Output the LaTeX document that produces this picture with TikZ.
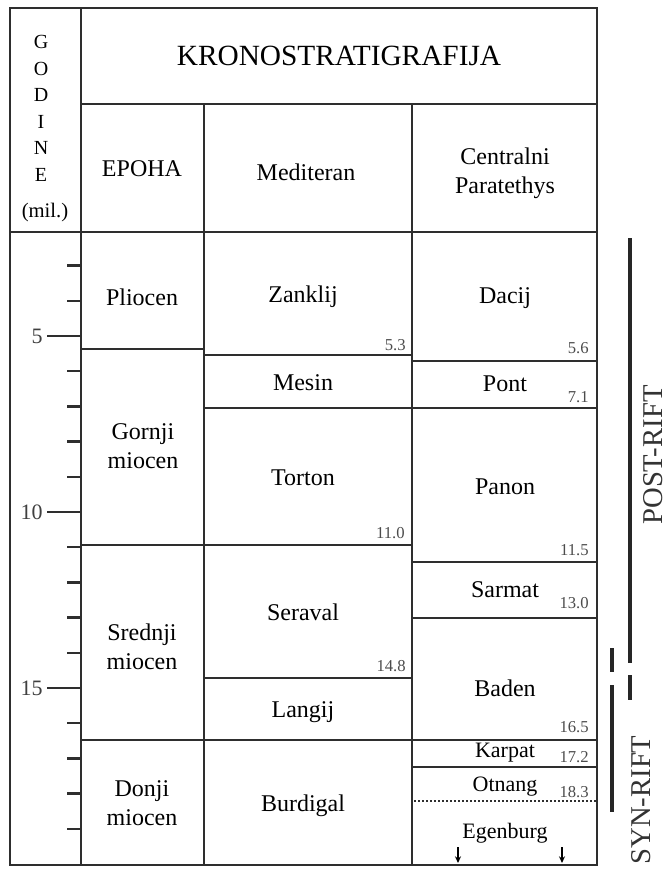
\documentclass[tikz,border=0pt]{standalone}
\usepackage{fontspec}
\setmainfont{Liberation Serif}
\usetikzlibrary{arrows.meta}
\def\ageat#1{{160+35.2*#1}}

\begin{document}
\begin{tikzpicture}[x=0.75pt,y=-0.75pt,
		tabline/.style={line width=1.7pt, color=black!82},
		riftline/.style={line width=2.3pt, color=black!85},
		unitname/.style={font=\fontsize{18}{22}\selectfont, align=center, inner sep=0pt},
		smallname/.style={font=\fontsize{16.5}{19}\selectfont, inner sep=0pt},
		agenum/.style={font=\fontsize{12.5}{14}\selectfont, color=black!70, anchor=east, inner sep=0pt},
		scalenum/.style={font=\fontsize{16.5}{19}\selectfont, color=black!75, anchor=east, inner sep=0pt},
		riftname/.style={font=\fontsize{21.5}{25}\selectfont, color=black!80, rotate=90, inner sep=0pt}]
			%%%%% START %%%%%
			\useasboundingbox (0,0) rectangle (667,869);
			
			\draw[tabline, line width=2pt] (10,8) rectangle (597,865);
			\draw[tabline] (81,8) -- (81,865);
			\draw[tabline] (81,104) -- (597,104);
			\draw[tabline] (10,232) -- (597,232);
			\draw[tabline] (204,104) -- (204,865);
			\draw[tabline] (412,104) -- (412,865);
			
			% header
			\node[font=\fontsize{22}{26}\selectfont, inner sep=0pt] (krono) at (339,56) {KRONOSTRATIGRAFIJA};
			\foreach \l [count=\i from 0] in {G,O,D,I,N,E}
				\node[font=\fontsize{15}{17}\selectfont, inner sep=0pt] (god\i) at (41,{42+26.6*\i}) {\l};
			\node[font=\fontsize{15.5}{17}\selectfont, inner sep=0pt] (mil) at (45,213) {(mil.)};
			\node[unitname] (epoha) at (142,169) {EPOHA};
			\node[unitname] (medit) at (306,172) {Mediteran};
			\node[unitname] (parat) at (505,173) {Centralni\\Paratethys};
			
			% time scale
			\foreach \m in {3,...,19}
				\draw[tabline] (67,\ageat{\m}) -- (81,\ageat{\m});
			\foreach \m in {5,10,15}{
				\draw[tabline] (47,\ageat{\m}) -- (81,\ageat{\m});
				\node[scalenum] (ma\m) at (43,\ageat{\m}) {\m};
			}
			
			% epohe
			\draw[tabline] (81,349) -- (204,349);
			\draw[tabline] (81,545) -- (412,545);
			\draw[tabline] (81,740) -- (597,740);
			\node[unitname] (pliocen) at (142,297) {Pliocen};
			\node[unitname] (gornji) at (143,446) {Gornji\\miocen};
			\node[unitname] (srednji) at (142,647) {Srednji\\miocen};
			\node[unitname] (donji) at (142,803) {Donji\\miocen};
			
			% Mediteran
			\draw[tabline] (204,355) -- (412,355);
			\draw[tabline] (204,408) -- (412,408);
			\draw[tabline] (204,678) -- (412,678);
			\node[unitname] (zanklij) at (303,297) {Zanklij};
			\node[unitname] (mesin) at (303,383) {Mesin};
			\node[unitname] (torton) at (303,478) {Torton};
			\node[unitname] (seraval) at (303,612) {Seraval};
			\node[unitname] (langij) at (303,712) {Langij};
			\node[unitname] (burdigal) at (303,806) {Burdigal};
			\node[agenum] (a53) at (406,345) {5.3};
			\node[agenum] (a110) at (405,533) {11.0};
			\node[agenum] (a148) at (406,666) {14.8};
			
			% Centralni Paratethys
			\draw[tabline] (412,361) -- (597,361);
			\draw[tabline] (412,408) -- (597,408);
			\draw[tabline] (412,562) -- (597,562);
			\draw[tabline] (412,618) -- (597,618);
			\draw[tabline] (412,767) -- (597,767);
			\draw[tabline, line width=1.5pt, dash pattern=on 1.5pt off 1.5pt] (414,801) -- (597,801);
			\node[unitname] (dacij) at (505,298) {Dacij};
			\node[unitname] (pont) at (505,384) {Pont};
			\node[unitname] (panon) at (505,487) {Panon};
			\node[unitname] (sarmat) at (505,590) {Sarmat};
			\node[unitname] (baden) at (505,688) {Baden};
			\node[smallname] (karpat) at (505,753) {Karpat};
			\node[smallname] (otnang) at (505,787) {Otnang};
			\node[smallname] (egenburg) at (505,833) {Egenburg};
			\node[agenum] (a56) at (589,348) {5.6};
			\node[agenum] (a71) at (589,397) {7.1};
			\node[agenum] (a115) at (589,550) {11.5};
			\node[agenum] (a130) at (589,603) {13.0};
			\node[agenum] (a165) at (589,727) {16.5};
			\node[agenum] (a172) at (589,757) {17.2};
			\node[agenum] (a183) at (589,792) {18.3};
			\draw[line width=0.9pt, -{Stealth[length=5pt,width=4.5pt]}] (458,847) -- (458,863);
			\draw[line width=0.9pt, -{Stealth[length=5pt,width=4.5pt]}] (562,847) -- (562,863);
			
			% rift
			\draw[riftline] (630,238) -- (630,663);
			\draw[riftline] (630,675) -- (630,700);
			\draw[riftline] (612,648) -- (612,672);
			\draw[riftline] (612,685) -- (612,812);
			\node[riftname] (post) at (653,455) {POST-RIFT};
			\node[riftname] (syn) at (641,800) {SYN-RIFT};
			
			%%%%% END %%%%%
\end{tikzpicture}
\end{document}
